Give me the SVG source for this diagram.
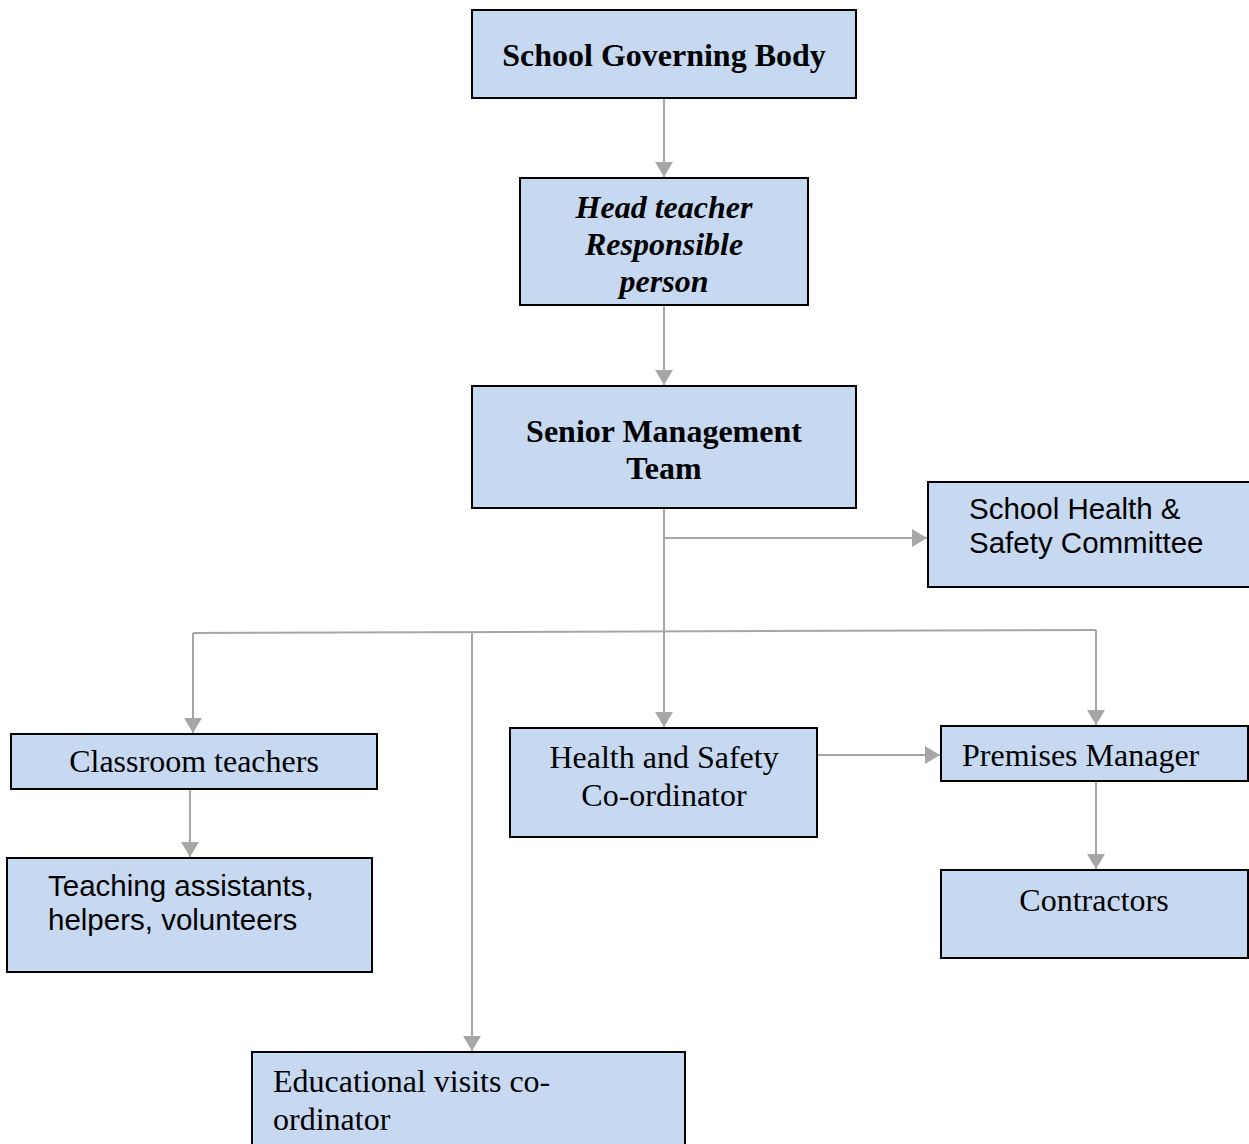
<svg xmlns="http://www.w3.org/2000/svg" width="1249" height="1144" viewBox="0 0 1249 1144">
<style>
.box{fill:#c6d9f0;stroke:#000;stroke-width:2}
.ln{fill:none;stroke:#a6a6a6;stroke-width:2}
.serif{font-family:"Liberation Serif","Times New Roman",serif;font-size:32px;fill:#000}
.b{font-weight:bold}
.i{font-style:italic}
.sans{font-family:"Liberation Sans",Arial,sans-serif;font-size:29.5px;fill:#000}
</style>
<defs>
<marker id="ah" markerWidth="8" markerHeight="9" refX="7.5" refY="4.5" orient="auto" markerUnits="strokeWidth">
<path d="M0,0 L7.5,4.5 L0,9 Z" fill="#a6a6a6"/>
</marker>
</defs>
<g id="connectors">
<path class="ln" d="M664,98 V177" marker-end="url(#ah)"/>
<path class="ln" d="M664,305 V385" marker-end="url(#ah)"/>
<path class="ln" d="M664,508 V727" marker-end="url(#ah)"/>
<path class="ln" d="M664,538 H927" marker-end="url(#ah)"/>
<path class="ln" d="M193,633 L1096,630"/>
<path class="ln" d="M193,633 V733" marker-end="url(#ah)"/>
<path class="ln" d="M472,632 V1051" marker-end="url(#ah)"/>
<path class="ln" d="M1096,630 V725" marker-end="url(#ah)"/>
<path class="ln" d="M817,755 H940" marker-end="url(#ah)"/>
<path class="ln" d="M1096,781 V869" marker-end="url(#ah)"/>
<path class="ln" d="M190,789 V857" marker-end="url(#ah)"/>
</g>
<g id="governing-body">
<rect class="box" x="472" y="10" width="384" height="88"/>
<text class="serif b" x="664" y="66" text-anchor="middle">School Governing Body</text>
</g>
<g id="head-teacher">
<rect class="box" x="520" y="178" width="288" height="127"/>
<text class="serif b i" text-anchor="middle"><tspan x="664" y="218">Head teacher</tspan><tspan x="664" y="255">Responsible</tspan><tspan x="664" y="292">person</tspan></text>
</g>
<g id="senior-management">
<rect class="box" x="472" y="386" width="384" height="122"/>
<text class="serif b" text-anchor="middle"><tspan x="664" y="442">Senior Management</tspan><tspan x="664" y="479">Team</tspan></text>
</g>
<g id="hs-committee">
<rect class="box" x="928" y="482" width="324" height="105"/>
<text class="sans"><tspan x="969" y="519">School Health &amp;</tspan><tspan x="969" y="553">Safety Committee</tspan></text>
</g>
<g id="classroom-teachers">
<rect class="box" x="11" y="734" width="366" height="55"/>
<text class="serif" x="194" y="772" text-anchor="middle">Classroom teachers</text>
</g>
<g id="hs-coordinator">
<rect class="box" x="510" y="728" width="307" height="109"/>
<text class="serif" text-anchor="middle"><tspan x="664" y="768">Health and Safety</tspan><tspan x="664" y="806">Co-ordinator</tspan></text>
</g>
<g id="premises-manager">
<rect class="box" x="941" y="726" width="307" height="55"/>
<text class="serif" x="962" y="766">Premises Manager</text>
</g>
<g id="contractors">
<rect class="box" x="941" y="870" width="307" height="88"/>
<text class="serif" x="1094" y="911" text-anchor="middle">Contractors</text>
</g>
<g id="teaching-assistants">
<rect class="box" x="7" y="858" width="365" height="114"/>
<text class="sans"><tspan x="48" y="896">Teaching assistants,</tspan><tspan x="48" y="930">helpers, volunteers</tspan></text>
</g>
<g id="educational-visits">
<rect class="box" x="252" y="1052" width="433" height="100"/>
<text class="serif"><tspan x="273" y="1092">Educational visits co-</tspan><tspan x="273" y="1130">ordinator</tspan></text>
</g>
</svg>
